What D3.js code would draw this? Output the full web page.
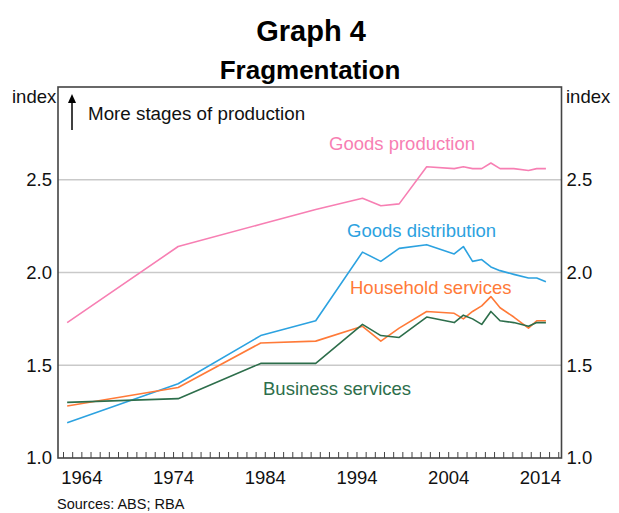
<!DOCTYPE html>
<html>
<head>
<meta charset="utf-8">
<script src="https://cdn.jsdelivr.net/npm/d3@7"></script>
<style>
  body { margin: 0; background: #fff; }
  svg { font-family: "Liberation Sans", Arial, sans-serif; }
</style>
</head>
<body>
<script>
//============Graph 4: Fragmentation=========//
// input-output years (plotted mid financial year)
var years = [1962.4, 1974.5, 1983.5, 1989.5, 1994.6, 1996.6, 1998.6, 2001.6, 2004.6,
  2005.6, 2006.6, 2007.6, 2008.6, 2009.6, 2011.1, 2012.7, 2013.6, 2014.6];

var goodsProduction = [1.73, 2.14, 2.26, 2.34, 2.40, 2.36, 2.37, 2.57, 2.56,
  2.57, 2.56, 2.56, 2.59, 2.56, 2.56, 2.55, 2.56, 2.56];
var goodsDistribution = [1.19, 1.40, 1.66, 1.74, 2.11, 2.06, 2.13, 2.15, 2.10,
  2.14, 2.06, 2.07, 2.03, 2.01, 1.99, 1.97, 1.97, 1.95];
var householdServices = [1.28, 1.38, 1.62, 1.63, 1.71, 1.63, 1.70, 1.79, 1.78,
  1.75, 1.79, 1.82, 1.87, 1.81, 1.76, 1.70, 1.74, 1.74];
var businessServices = [1.30, 1.32, 1.51, 1.51, 1.72, 1.66, 1.65, 1.76, 1.73,
  1.77, 1.75, 1.72, 1.79, 1.74, 1.73, 1.71, 1.73, 1.73];

var yTicks = [1.0, 1.5, 2.0, 2.5];
var xLabels = [1964, 1974, 1984, 1994, 2004, 2014];

var pink = '#f77fb3',
  blue = '#2ca2e0',
  orange = '#ff7a38',
  green = '#2d6e4b',
  frameColor = '#444',
  gridColor = '#c9c9c9';

var width = 619, height = 513;
var plot = {left: 58, right: 561.5, top: 87, bottom: 458};

var x = d3.scaleLinear().domain([1961.4, 2016.3]).range([plot.left, plot.right]);
var y = d3.scaleLinear().domain([1, 3]).range([plot.bottom, plot.top]);

var svg = d3.select('body').append('svg')
  .attr('width', width)
  .attr('height', height);

// titles
svg.append('text')
  .attr('x', 311).attr('y', 41)
  .attr('text-anchor', 'middle')
  .style('font-size', '29px').style('font-weight', 'bold')
  .text('Graph 4');
svg.append('text')
  .attr('x', 310).attr('y', 79)
  .attr('text-anchor', 'middle')
  .style('font-size', '26px').style('font-weight', 'bold')
  .text('Fragmentation');

// gridlines
svg.selectAll('.grid')
  .data(yTicks.filter(function(d) { return d > 1; }))
  .enter().append('line')
  .attr('class', 'grid')
  .attr('x1', plot.left).attr('x2', plot.right)
  .attr('y1', function(d) { return y(d); })
  .attr('y2', function(d) { return y(d); })
  .style('stroke', gridColor)
  .style('stroke-width', 1.3);

// year ticks along the bottom, pointing up
var yearTicks = d3.range(1962, 2017);
svg.selectAll('.xtick')
  .data(yearTicks)
  .enter().append('line')
  .attr('class', 'xtick')
  .attr('x1', function(d) { return x(d); })
  .attr('x2', function(d) { return x(d); })
  .attr('y1', plot.bottom)
  .attr('y2', plot.bottom - 6)
  .style('stroke', frameColor)
  .style('stroke-width', 1);

// frame
svg.append('rect')
  .attr('x', plot.left).attr('y', plot.top)
  .attr('width', plot.right - plot.left)
  .attr('height', plot.bottom - plot.top)
  .style('fill', 'none')
  .style('stroke', frameColor)
  .style('stroke-width', 1.6);

// y labels both sides
var ylab = svg.append('g').style('font-size', '18.5px').style('fill', '#111');
yTicks.forEach(function(d) {
  ylab.append('text')
    .attr('x', plot.left - 6).attr('y', y(d)).attr('dy', '0.35em')
    .attr('text-anchor', 'end')
    .text(d3.format('.1f')(d));
  ylab.append('text')
    .attr('x', plot.right + 5).attr('y', y(d)).attr('dy', '0.35em')
    .attr('text-anchor', 'start')
    .text(d3.format('.1f')(d));
});
ylab.append('text').attr('x', 12).attr('y', 103).text('index');
ylab.append('text').attr('x', 566).attr('y', 103).text('index');

// x labels
svg.selectAll('.xlab')
  .data(xLabels)
  .enter().append('text')
  .attr('class', 'xlab')
  .attr('x', function(d) { return x(d); })
  .attr('y', 484)
  .attr('text-anchor', 'middle')
  .style('font-size', '18.5px')
  .style('fill', '#111')
  .text(function(d) { return d; });

svg.append('text')
  .attr('x', 57).attr('y', 509)
  .style('font-size', '14.5px')
  .style('fill', '#111')
  .text('Sources: ABS; RBA');

// arrow annotation
svg.append('line')
  .attr('x1', 72).attr('x2', 72)
  .attr('y1', 130).attr('y2', 100)
  .style('stroke', '#000').style('stroke-width', 1.5);
svg.append('path')
  .attr('d', 'M72,94 L68,103 L76,103 Z')
  .style('fill', '#000');
svg.append('text')
  .attr('x', 88).attr('y', 120)
  .style('font-size', '18.8px')
  .style('fill', '#111')
  .text('More stages of production');

// series
var series = [
  {name: 'Goods production', values: goodsProduction, color: pink, lx: 329, ly: 150},
  {name: 'Goods distribution', values: goodsDistribution, color: blue, lx: 347, ly: 237},
  {name: 'Household services', values: householdServices, color: orange, lx: 350, ly: 294},
  {name: 'Business services', values: businessServices, color: green, lx: 263, ly: 395}
];

var line = d3.line()
  .x(function(d, i) { return x(years[i]); })
  .y(function(d) { return y(d); });

var g = svg.selectAll('.series')
  .data(series)
  .enter().append('g')
  .attr('class', 'series');

g.append('path')
  .attr('d', function(d) { return line(d.values); })
  .style('fill', 'none')
  .style('stroke', function(d) { return d.color; })
  .style('stroke-width', 1.6)
  .style('stroke-linejoin', 'round');

g.append('text')
  .attr('x', function(d) { return d.lx; })
  .attr('y', function(d) { return d.ly; })
  .style('font-size', '18.5px')
  .style('fill', function(d) { return d.color; })
  .text(function(d) { return d.name; });
</script>
</body>
</html>
